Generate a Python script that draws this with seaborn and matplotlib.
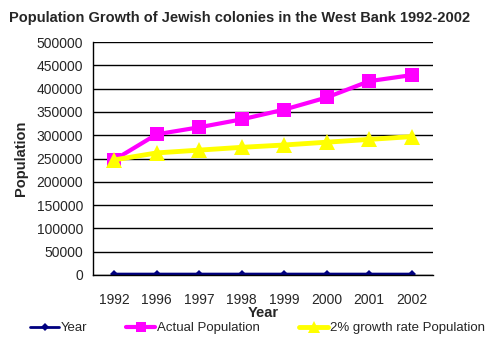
import numpy as np
import pandas as pd
import seaborn as sns
import matplotlib.pyplot as plt

years = ["1992", "1996", "1997", "1998", "1999", "2000", "2001", "2002"]
year_values = [1992, 1996, 1997, 1998, 1999, 2000, 2001, 2002]
actual_pop = [247000, 302000, 317000, 334000, 355000, 381000, 416000, 429000]
growth_pop = [247000, 262000, 268000, 274000, 279000, 285000, 291000, 297000]

sns.set_style("white")
plt.rcParams['font.family'] = ['Liberation Sans', 'DejaVu Sans']

pos = np.arange(len(years))
df = pd.DataFrame({"pos": pos, "year": year_values, "actual": actual_pop, "growth": growth_pop})

fig = plt.figure(figsize=(4.95, 3.5), dpi=100)
ax = fig.add_axes([93 / 495, 1 - 275 / 350, 340 / 495, 233 / 350])

sns.lineplot(data=df, x="pos", y="year", ax=ax, color="#000080", marker="D",
             markersize=4, linewidth=2, markeredgewidth=0, label="Year")
sns.lineplot(data=df, x="pos", y="actual", ax=ax, color="#FF00FF", marker="s",
             markersize=10, linewidth=3, markeredgewidth=0, label="Actual Population")
sns.lineplot(data=df, x="pos", y="growth", ax=ax, color="#FFFF00", marker="^",
             markersize=11, linewidth=3.5, markeredgewidth=0, label="2% growth rate Population")

ax.set_xlim(-0.5, len(years) - 0.5)
ax.set_ylim(0, 500000)
ax.set_yticks(np.arange(0, 500001, 50000))
ax.set_yticklabels([str(v) for v in range(0, 500001, 50000)], fontsize=10)
ax.set_xticks(pos)
ax.set_xticklabels(years, fontsize=10)
ax.set_xticks(np.arange(-0.5, len(years)), minor=True)
ax.tick_params(axis="x", which="major", length=0, pad=13)
ax.tick_params(axis="x", which="minor", length=4, width=1, color="black", direction="out")
ax.tick_params(axis="y", length=4, width=1, color="black", direction="out", pad=3)
ax.grid(True, axis="y", color="black", linewidth=1)
ax.set_axisbelow(True)
for side in ["top", "right"]:
    ax.spines[side].set_visible(False)
for side in ["left", "bottom"]:
    ax.spines[side].set_color("black")
    ax.spines[side].set_linewidth(1)

ax.set_xlabel("Year", fontsize=10.5, fontweight="bold", labelpad=-1)
ax.set_ylabel("Population", fontsize=10.5, fontweight="bold", labelpad=6)

fig.text(240 / 495, 1 - 18 / 350, "Population Growth of Jewish colonies in the West Bank 1992-2002",
         ha="center", va="center", fontsize=10.5, fontweight="bold")

leg = ax.legend(loc="center left", bbox_to_anchor=(30 / 495, 1 - 328 / 350), bbox_transform=fig.transFigure,
                ncol=3, frameon=False, fontsize=9.5, handlelength=2.2, handletextpad=0.15,
                columnspacing=2.95, borderpad=0, borderaxespad=0)
for h, ms in zip(leg.legend_handles, [4, 7, 8]):
    h.set_markersize(ms)

fig.savefig("out.png", dpi=100)
plt.close(fig)
